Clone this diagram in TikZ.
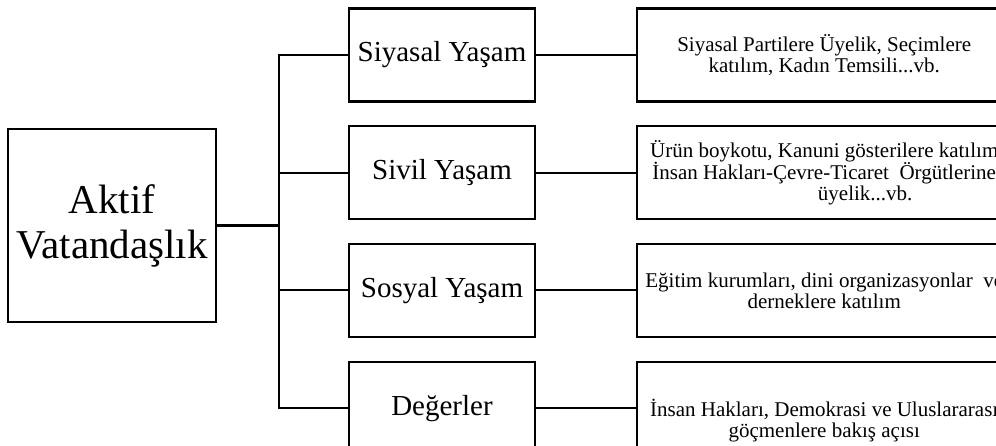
\documentclass[tikz,border=0pt]{standalone}
\usepackage{fontspec}
\setmainfont{Liberation Serif}
\usetikzlibrary{positioning}

\begin{document}
\begin{tikzpicture}[x=1pt,y=-1pt,
    box/.style={draw,line width=2.2pt,inner sep=0pt,align=center},
    mainbox/.style={box,minimum width=208pt,minimum height=193pt,
        font={\fontsize{41}{45}\selectfont}},
    areabox/.style={box,minimum width=186pt,minimum height=93pt,
        font={\fontsize{29}{33}\selectfont}},
    infobox/.style={box,minimum width=374pt,minimum height=93pt,
        font={\fontsize{21}{21}\selectfont}},
    branch/.style={line width=1.8pt},
    node distance=22.5pt,
    ]
    % Frame, the right and lower boxes run past it
    \useasboundingbox (0,0) rectangle (996,446);
    \clip (0,0) rectangle (996,446);
    % Main box
    \node[mainbox] (aktif) at (112,225.5) {Aktif\\Vatandaşlık};
    % Areas
    \node[areabox] (siyasal) at (442,55) {Siyasal Yaşam};
    \node[areabox,below=of siyasal] (sivil) {Sivil Yaşam};
    \node[areabox,below=of sivil] (sosyal) {Sosyal Yaşam};
    \node[areabox,below=of sosyal] (degerler) {Değerler};
    % Examples
    \node[infobox,right=100pt of siyasal] (siyasalOrn)
        {Siyasal Partilere Üyelik, Seçimlere\\katılım, Kadın Temsili...vb.};
    \node[infobox,right=100pt of sivil] (sivilOrn)
        {Ürün boykotu, Kanuni gösterilere katılım\\
         İnsan Hakları-Çevre-Ticaret~ Örgütlerine\\
         \hspace*{82pt}üyelik...vb.};
    \node[infobox,right=100pt of sosyal] (sosyalOrn)
        {Eğitim kurumları, dini organizasyonlar~ ve\\derneklere katılım};
    \node[infobox,minimum height=118pt,right=100pt of degerler.north east,
        anchor=north west] (degerlerOrn)
        {İnsan Hakları, Demokrasi ve Uluslararası\\göçmenlere bakış açısı};
    % Tree lines
    \coordinate (bus) at (279,225.5);
    \draw[line width=3pt] (aktif.east) -- (bus);
    \foreach \n in {siyasal,sivil,sosyal,degerler}{
        \draw[branch] (bus) |- (\n.west);
        \draw[branch] (\n.east) -- (\n.east -| \n Orn.west);
    }
\end{tikzpicture}
\end{document}
